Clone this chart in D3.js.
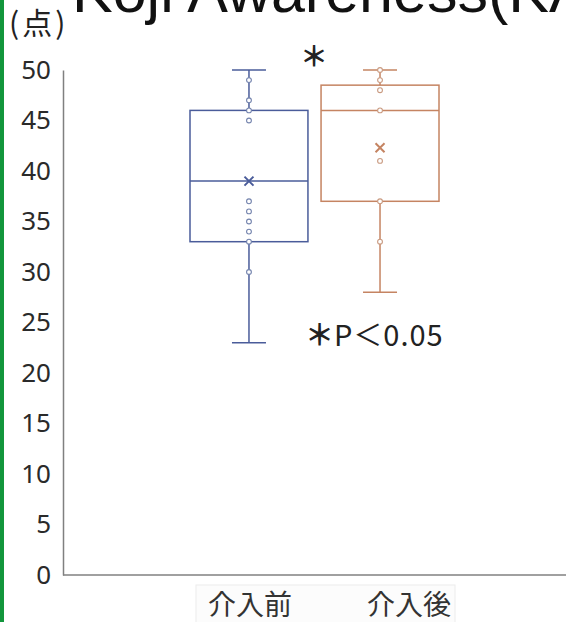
<!DOCTYPE html>
<html>
<head>
<meta charset="utf-8">
<script src="https://cdn.jsdelivr.net/npm/d3@7"></script>
<style>
	body { margin: 0; background: #fff; }
	svg { display: block; }
	text { font-family: "Noto Sans CJK JP", "Noto Sans", sans-serif; }
</style>
</head>
<body>
<svg width="566" height="622"></svg>
<script>
// box statistics
var categories = ["介入前", "介入後"];
var mins    = [23, 28];
var q1s     = [33, 37];
var medians = [39, 46];
var q3s     = [46, 48.5];
var maxs    = [50, 50];
var means   = [39, 42.3];
// inner points (distinct values only, duplicates overlap)
var pointsPre  = [49, 47, 46, 45, 37, 36, 35, 34, 33, 30];
var pointsPost = [50, 49, 48, 46, 41, 37, 33];
var yTicks = [0, 5, 10, 15, 20, 25, 30, 35, 40, 45, 50];

var colors = ["#4a5c9a", "#c58462"];
var dotColors = ["#7383ad", "#c99a80"];

var svg = d3.select("svg"),
	width = +svg.attr("width"),
	height = +svg.attr("height");

var y = d3.scaleLinear()
	.domain([0, 50])
	.range([575, 70]);

var x = d3.scaleBand()
	.domain(categories)
	.range([190, 439])
	.paddingInner(0.1);

var xLabel = d3.scalePoint()
	.domain(categories)
	.range([250, 409]);

// green strip at the left edge
svg.append("rect")
	.attr("x", 0).attr("y", 0)
	.attr("width", 4).attr("height", height)
	.attr("fill", "#12963c");

// title, cut off by the top of the frame like in the source
svg.append("text")
	.attr("x", 72)
	.attr("y", 12)
	.style("font-family", "Liberation Sans, Arial, sans-serif")
	.attr("font-size", 61)
	.attr("fill", "#111")
	.text("Koji Awareness(KA)");

svg.append("text")
	.attr("x", 9)
	.attr("y", 34)
	.attr("font-size", 30)
	.attr("letter-spacing", 3)
	.attr("fill", "#222")
	.text("(点)");

// y axis
var yAxis = svg.append("g")
	.attr("transform", "translate(63,0)")
	.call(d3.axisLeft(y).tickValues(yTicks).tickSize(0).tickPadding(12));

yAxis.select(".domain")
	.attr("stroke", "#808080")
	.attr("stroke-width", 1.5);

yAxis.selectAll("text")
	.attr("font-size", 26)
	.attr("fill", "#2a2a2a")
	.style("font-family", "Noto Sans, sans-serif");

// x axis line
svg.append("line")
	.attr("x1", 63).attr("x2", width)
	.attr("y1", y(0)).attr("y2", y(0))
	.attr("stroke", "#808080")
	.attr("stroke-width", 1.5);

// category label strip
svg.append("rect")
	.attr("x", 196).attr("y", 585)
	.attr("width", 259).attr("height", 45)
	.attr("fill", "#fcfcfc")
	.attr("stroke", "#ececec")
	.attr("stroke-width", 1);

svg.selectAll(".cat-label")
	.data(categories).enter()
	.append("text")
	.attr("class", "cat-label")
	.attr("x", function(d) { return xLabel(d); })
	.attr("y", 615)
	.attr("text-anchor", "middle")
	.attr("font-size", 28)
	.attr("fill", "#333")
	.text(function(d) { return d; });

var boxes = categories.map(function(c, i) {
	return {
		cat: c, min: mins[i], q1: q1s[i], med: medians[i], q3: q3s[i],
		max: maxs[i], mean: means[i], pts: i === 0 ? pointsPre : pointsPost,
		color: colors[i], dot: dotColors[i]
	};
});

var bw = x.bandwidth();
var g = svg.selectAll(".box")
	.data(boxes).enter()
	.append("g")
	.attr("class", "box");

// whiskers
g.append("line")
	.attr("x1", function(d) { return x(d.cat) + bw / 2; })
	.attr("x2", function(d) { return x(d.cat) + bw / 2; })
	.attr("y1", function(d) { return y(d.max); })
	.attr("y2", function(d) { return y(d.min); })
	.attr("stroke", function(d) { return d.color; })
	.attr("stroke-width", 1.5);

g.selectAll(".cap")
	.data(function(d) { return [d.min, d.max].map(function(v) { return {v: v, d: d}; }); })
	.enter().append("line")
	.attr("class", "cap")
	.attr("x1", function(e) { return x(e.d.cat) + bw / 2 - 17; })
	.attr("x2", function(e) { return x(e.d.cat) + bw / 2 + 17; })
	.attr("y1", function(e) { return y(e.v); })
	.attr("y2", function(e) { return y(e.v); })
	.attr("stroke", function(e) { return e.d.color; })
	.attr("stroke-width", 1.5);

// box
g.append("rect")
	.attr("x", function(d) { return x(d.cat); })
	.attr("y", function(d) { return y(d.q3); })
	.attr("width", bw)
	.attr("height", function(d) { return y(d.q1) - y(d.q3); })
	.attr("fill", "#fff")
	.attr("stroke", function(d) { return d.color; })
	.attr("stroke-width", 1.5);

// median
g.append("line")
	.attr("x1", function(d) { return x(d.cat); })
	.attr("x2", function(d) { return x(d.cat) + bw; })
	.attr("y1", function(d) { return y(d.med); })
	.attr("y2", function(d) { return y(d.med); })
	.attr("stroke", function(d) { return d.color; })
	.attr("stroke-width", 1.5);

// inner points
g.selectAll(".pt")
	.data(function(d) { return d.pts.map(function(v) { return {v: v, d: d}; }); })
	.enter().append("circle")
	.attr("class", "pt")
	.attr("cx", function(e) { return x(e.d.cat) + bw / 2; })
	.attr("cy", function(e) { return y(e.v); })
	.attr("r", 2.4)
	.attr("fill", "#fff")
	.attr("stroke", function(e) { return e.d.dot; })
	.attr("stroke-width", 1.1);

// mean marker
g.append("path")
	.attr("d", function(d) {
		var cx = x(d.cat) + bw / 2, cy = y(d.mean), s = 4.5;
		return "M" + (cx - s) + "," + (cy - s) + "L" + (cx + s) + "," + (cy + s) +
			"M" + (cx - s) + "," + (cy + s) + "L" + (cx + s) + "," + (cy - s);
	})
	.attr("stroke", function(d) { return d.color; })
	.attr("stroke-width", 2)
	.attr("fill", "none");

// significance marks
svg.append("text")
	.attr("x", 314)
	.attr("y", 55)
	.attr("text-anchor", "middle")
	.attr("dominant-baseline", "central")
	.attr("font-size", 28)
	.attr("font-weight", 700)
	.attr("fill", "#222")
	.text("＊");

var note = svg.append("text")
	.attr("x", 305)
	.attr("y", 346)
	.attr("font-size", 29)
	.attr("fill", "#222");
note.append("tspan")
	.attr("font-weight", 700)
	.text("＊");
note.append("tspan")
	.attr("letter-spacing", 1)
	.text("P＜0.05");
</script>
</body>
</html>
